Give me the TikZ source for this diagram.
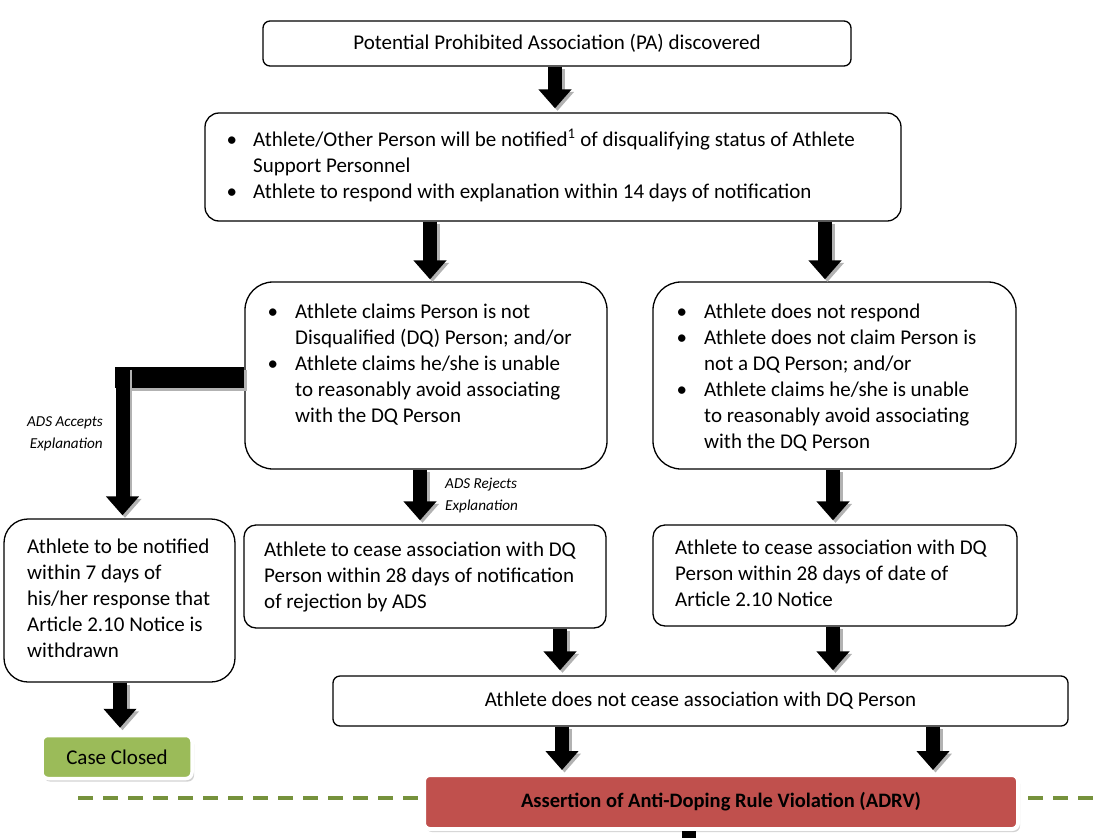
\documentclass[tikz,border=0pt]{standalone}
\usepackage{fontspec}
\setmainfont{Carlito}
\usetikzlibrary{arrows.meta,shadows}
\definecolor{ccgreen}{HTML}{9BBB59}
\definecolor{adred}{HTML}{C0504D}
\definecolor{dashgreen}{RGB}{118,146,60}
\newcommand{\bt}{\textbullet}
\newcommand{\myarrow}[1]{\draw[shd] #1; \draw[blk] #1;}
\tikzset{
  box/.style={draw, line width=1.3pt, fill=white, inner sep=0pt},
  txt/.style={inner sep=0pt, anchor=north west, font=\fontsize{21}{26}\selectfont, align=left},
  lbl/.style={inner sep=0pt, font=\fontsize{15.2}{22}\selectfont\itshape},
  blk/.style={line width=14pt, draw=black, -{Triangle[width=32pt,length=19pt]}},
  shd/.style={blk, draw=black!30, transform canvas={shift={(2.5pt,-2.5pt)}}},
  bar/.style={line width=21pt, draw=black},
  barshd/.style={line width=21pt, draw=black!30, transform canvas={shift={(2.5pt,-2.5pt)}}},
}
\begin{document}
\begin{tikzpicture}[x=1pt,y=-1pt]
\useasboundingbox (0,0) rectangle (1094,838);
% boxes
\node[box, rounded corners=7pt, minimum width=588pt, minimum height=45pt, font=\fontsize{21}{26}\selectfont] (top) at (557,43.5) {Potential Prohibited Association (PA) discovered};
\node[box, rounded corners=14pt, minimum width=696pt, minimum height=108pt] (notify) at (553,167) {};
\node[txt] (notifyT) at (226.5,128) {\begin{tabular}{@{}l@{\hspace{16pt}}l@{}}
\bt & Athlete/Other Person will be notified\textsuperscript{1} of disqualifying status of Athlete\\
 & Support Personnel\\
\bt & Athlete to respond with explanation within 14 days of notification
\end{tabular}};
\node[box, rounded corners=28pt, minimum width=362pt, minimum height=187pt] (claims) at (426,375.5) {};
\node[txt] (claimsT) at (267.5,300) {\begin{tabular}{@{}l@{\hspace{17pt}}l@{}}
\bt & Athlete claims Person is not\\
 & Disqualified (DQ) Person; and/or\\
\bt & Athlete claims he/she is unable\\
 & to reasonably avoid associating\\
 & with the DQ Person
\end{tabular}};
\node[box, rounded corners=28pt, minimum width=363pt, minimum height=187pt] (noresp) at (834.5,375.5) {};
\node[txt] (norespT) at (676.5,300) {\begin{tabular}{@{}l@{\hspace{17pt}}l@{}}
\bt & Athlete does not respond\\
\bt & Athlete does not claim Person is\\
 & not a DQ Person; and/or\\
\bt & Athlete claims he/she is unable\\
 & to reasonably avoid associating\\
 & with the DQ Person
\end{tabular}};
\node[box, rounded corners=24pt, minimum width=231pt, minimum height=163pt] (withdraw) at (119.5,600.5) {};
\node[txt] (withdrawT) at (27,539) {Athlete to be notified\\within 7 days of\\his/her response that\\Article 2.10 Notice is\\withdrawn};
\node[box, rounded corners=12pt, minimum width=362pt, minimum height=103pt] (rej) at (425,576.5) {};
\node[txt] (rejT) at (264,542) {Athlete to cease association with DQ\\Person within 28 days of notification\\of rejection by ADS};
\node[box, rounded corners=12pt, minimum width=364pt, minimum height=101pt] (date) at (835,575.5) {};
\node[txt] (dateT) at (675,540) {Athlete to cease association with DQ\\Person within 28 days of date of\\Article 2.10 Notice};
\node[box, rounded corners=7pt, minimum width=735pt, minimum height=50pt, font=\fontsize{21}{26}\selectfont] (dnc) at (700.5,701) {Athlete does not cease association with DQ Person};
% labels
\node[lbl, align=right, anchor=east] (acc) at (103,434) {ADS Accepts\\Explanation};
\node[lbl, align=left, anchor=west] (rejl) at (445,495) {ADS Rejects\\Explanation};
% dashed line
\coordinate (dl) at (78,798);
\coordinate (dr) at (1094,798);
\draw[dashgreen, line width=4pt, dash pattern=on 15pt off 10pt] (dl) -- (dr);
% coloured boxes
\node[fill=ccgreen, draw=white, line width=3.5pt, rounded corners=6pt, minimum width=150pt, minimum height=43pt, inner sep=0pt,
  drop shadow={shadow xshift=2pt, shadow yshift=-3pt, fill=black!35}, font=\fontsize{21}{26}\selectfont] (cc) at (117,757) {Case Closed};
\node[fill=adred, draw=white, line width=4pt, rounded corners=6pt, minimum width=594pt, minimum height=54pt, inner sep=0pt,
  drop shadow={shadow xshift=2pt, shadow yshift=-3pt, fill=black!35}, font=\fontsize{20.5}{24}\selectfont\bfseries] (adrv) at (721,802) {Assertion of Anti-Doping Rule Violation (ADRV)};
% coordinates for connectors
\coordinate (c555) at (555,0);
\coordinate (c825) at (825,0);
\coordinate (c430) at (430,0);
\coordinate (c420) at (420,0);
\coordinate (c560) at (560,0);
\coordinate (c833) at (833,0);
\coordinate (c562) at (562,0);
\coordinate (c933) at (933,0);
\coordinate (c120) at (120,0);
\coordinate (elb) at (122.5,377.5);
\coordinate (elbtop) at (122.5,367);
\coordinate (elbleft) at (115,377.5);
\coordinate (bot) at (689,838);
% arrows
\myarrow{(top.south -| c555) -- ([yshift=4pt]notify.north -| c555)}
\myarrow{(notify.south -| c430) -- ([yshift=2pt]claims.north -| c430)}
\myarrow{(notify.south -| c825) -- ([yshift=2pt]noresp.north -| c825)}
\draw[barshd] (claims.west |- elb) -- (elbleft);
\draw[bar] (claims.west |- elb) -- (elbleft);
\myarrow{(elbtop) -- ([yshift=3pt]withdraw.north -| elb)}
\myarrow{(claims.south -| c420) -- ([yshift=4pt]rej.north -| c420)}
\myarrow{(noresp.south -| c833) -- ([yshift=4pt]date.north -| c833)}
\myarrow{(withdraw.south -| c120) -- ([yshift=6pt]cc.north -| c120)}
\myarrow{(rej.south -| c560) -- ([yshift=5pt]dnc.north -| c560)}
\myarrow{(date.south -| c833) -- ([yshift=5pt]dnc.north -| c833)}
\myarrow{(dnc.south -| c562) -- ([yshift=3pt]adrv.north -| c562)}
\myarrow{(dnc.south -| c933) -- ([yshift=3pt]adrv.north -| c933)}
\draw[line width=14pt] (adrv.south -| bot) -- (bot);
\end{tikzpicture}
\end{document}
